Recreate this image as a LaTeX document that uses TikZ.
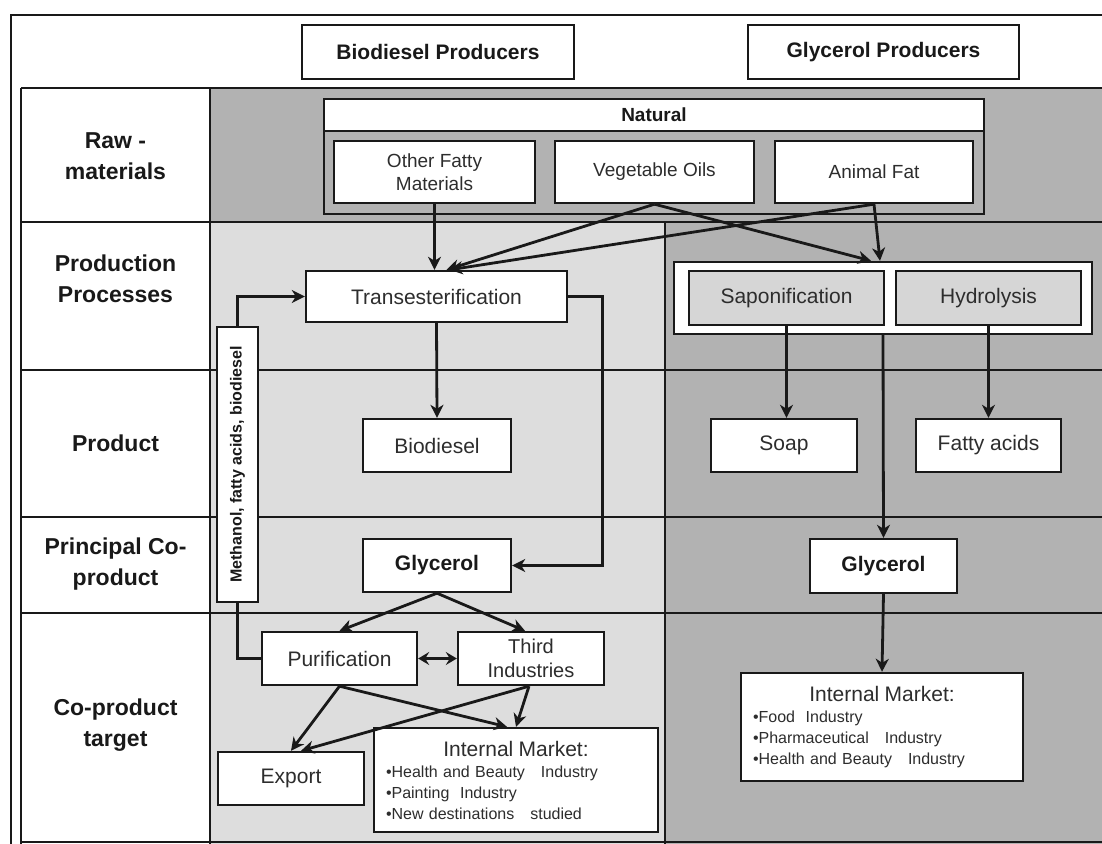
\documentclass[tikz,border=0pt]{standalone}
\usepackage{fontspec}
\setmainfont{Liberation Sans}
\usepackage{xcolor}
\usetikzlibrary{arrows.meta,positioning}

\definecolor{ink}{RGB}{25,25,25}
\definecolor{boxtext}{RGB}{45,45,45}
\definecolor{darkbg}{RGB}{178,178,178}
\definecolor{lightbg}{RGB}{221,221,221}
\definecolor{procfill}{RGB}{214,214,214}

\begin{document}
\begin{tikzpicture}[
  x=1pt, y=-1pt,
  box/.style={rectangle, draw=ink, line width=2.4pt, fill=white, text=boxtext,
              align=center, inner sep=2pt, font=\fontsize{21}{25}\selectfont},
  rawbox/.style={box, font=\fontsize{19}{23}\selectfont},
  procbox/.style={box, fill=procfill},
  producer/.style={box, text=ink, font=\bfseries\fontsize{21}{25}\selectfont},
  boldbox/.style={box, text=ink, font=\bfseries\fontsize{21}{25}\selectfont},
  market/.style={box, align=left, inner xsep=12pt, font=\fontsize{16}{21}\selectfont},
  rowlabel/.style={align=center, text=ink, font=\bfseries\fontsize{23}{31}\selectfont},
  grid/.style={draw=ink, line width=2.2pt},
  arrow/.style={-{Stealth[length=13pt,width=13pt,inset=4pt]}, draw=ink, line width=2.8pt},
  twoway/.style={{Stealth[length=11pt,width=13pt,inset=4pt]}-{Stealth[length=11pt,width=13pt,inset=4pt]},
                 draw=ink, line width=2.8pt},
  link/.style={draw=ink, line width=2.8pt}
]
\clip (0,0) rectangle (1102,843);
\fill[white] (0,0) rectangle (1102,843);

% table
\draw[grid, line width=2.8pt] (11,860) -- (11,15) -- (1120,15);
\fill[darkbg] (210,88) rectangle (1120,222);
\fill[lightbg] (210,222) rectangle (665,860);
\fill[darkbg] (665,222) rectangle (1120,860);
\foreach \y in {88,222,370,517,613,842}
  \draw[grid] (21,\y) -- (1120,\y);
\draw[grid] (21,88) -- (21,860);
\draw[grid] (210,88) -- (210,860);
\draw[grid] (665,222) -- (665,860);

\node[rowlabel] (rawlab) at (115.5,156) {Raw -\\materials};
\node[rowlabel] (proclab) at (115.5,279) {Production\\Processes};
\node[rowlabel] (prodlab) at (115.5,443) {Product};
\node[rowlabel] (colab) at (115.5,564) {Principal Co-\\product};
\node[rowlabel] (targlab) at (115.5,725) {Co-product\\target};

\node[producer, minimum width=272, minimum height=54] (biodprod) at (438,52) {Biodiesel Producers};
\node[producer, minimum width=271, minimum height=54] (glycprod) at (883.5,52) {Glycerol Producers};

% raw materials
\node[box, fill=darkbg, minimum width=660, minimum height=115] (rawgrp) at (654,156.5) {};
\node[producer, font=\bfseries\fontsize{19}{23}\selectfont, minimum width=660, minimum height=32] (natural) at (654,115) {Natural};
\node[rawbox, minimum width=201, minimum height=62] (ofm) at (434.5,172) {Other Fatty\\Materials};
\node[rawbox, minimum width=199, minimum height=62] (vego) at (654.5,172) {Vegetable Oils};
\node[rawbox, minimum width=198, minimum height=62] (anfat) at (874,172) {Animal Fat};

% biodiesel producers
\node[box, minimum width=261, minimum height=51] (trans) at (436.5,296.5) {Transesterification};
\node[box, minimum width=148, minimum height=53] (biod) at (437,445.5) {Biodiesel};
\node[boldbox, minimum width=148, minimum height=53] (glyc1) at (437,565.5) {Glycerol};
\node[box, rotate=90, text=ink, font=\bfseries\fontsize{16}{19}\selectfont,
      minimum width=275, minimum height=41] (meth) at (237.5,464.5) {Methanol, fatty acids, biodiesel};
\node[box, minimum width=155, minimum height=53] (purif) at (339.5,658.5) {Purification};
\node[box, minimum width=146, minimum height=53, font=\fontsize{20}{24}\selectfont] (third) at (531,658.5) {Third\\Industries};
\node[box, minimum width=146, minimum height=53] (export) at (291,778.5) {Export};
\node[market, text width=260, minimum height=104] (im1) at (516,780)
  {{\centering\fontsize{21}{24}\selectfont Internal Market:\par}
   •Health and Beauty~~~Industry\\
   •Painting~~Industry\\
   •New destinations~~~studied};

% glycerol producers
\node[box, minimum width=418, minimum height=72] (sapgrp) at (883,298) {};
\node[procbox, minimum width=195, minimum height=54] (sapon) at (786.5,298) {Saponification};
\node[procbox, minimum width=185, minimum height=54] (hydro) at (988.5,298) {Hydrolysis};
\node[box, minimum width=146, minimum height=53] (soap) at (784,445.5) {Soap};
\node[box, minimum width=145, minimum height=53] (fatty) at (988.5,445.5) {Fatty acids};
\node[boldbox, minimum width=147, minimum height=54] (glyc2) at (883.5,566) {Glycerol};
\node[market, text width=258, minimum height=108] (im2) at (882,727)
  {{\centering\fontsize{21}{24}\selectfont Internal Market:\par}
   •Food~~Industry\\
   •Pharmaceutical~~~Industry\\
   •Health and Beauty~~~Industry};

\draw[arrow] (ofm.south) -- (ofm.south |- trans.north);
\draw[arrow] (vego.south) -- ([xshift=10]trans.north);
\draw[arrow] (anfat.south) -- ([xshift=13]trans.north);
\draw[arrow] (vego.south) -- ([xshift=-12]sapgrp.north);
\draw[arrow] (anfat.south) -- ([xshift=-3]sapgrp.north);
\draw[arrow] (meth.east) |- (trans.west);
\draw[link] (meth.west) |- (purif.west);
\draw[arrow] (trans.south) -- (biod.north);
\draw[arrow] (trans.east) -- ++(34,0) |- (glyc1.east);
\draw[arrow] (glyc1.south) -- (purif.north);
\draw[arrow] (glyc1.south) -- ([xshift=-6]third.north);
\draw[twoway] (purif.east) -- (third.west);
\draw[arrow] (purif.south) -- (export.north);
\draw[arrow] (purif.south) -- ([xshift=-9]im1.north);
\draw[arrow] ([xshift=-2]third.south) -- ([xshift=10]export.north);
\draw[arrow] ([xshift=-2]third.south) -- (im1.north);
\draw[arrow] (sapon.south) -- (sapon.south |- soap.north);
\draw[arrow] (hydro.south) -- (fatty.north);
\draw[arrow] (sapgrp.south) -- (glyc2.north);
\draw[arrow] (glyc2.south) -- (im2.north);

\end{tikzpicture}
\end{document}
